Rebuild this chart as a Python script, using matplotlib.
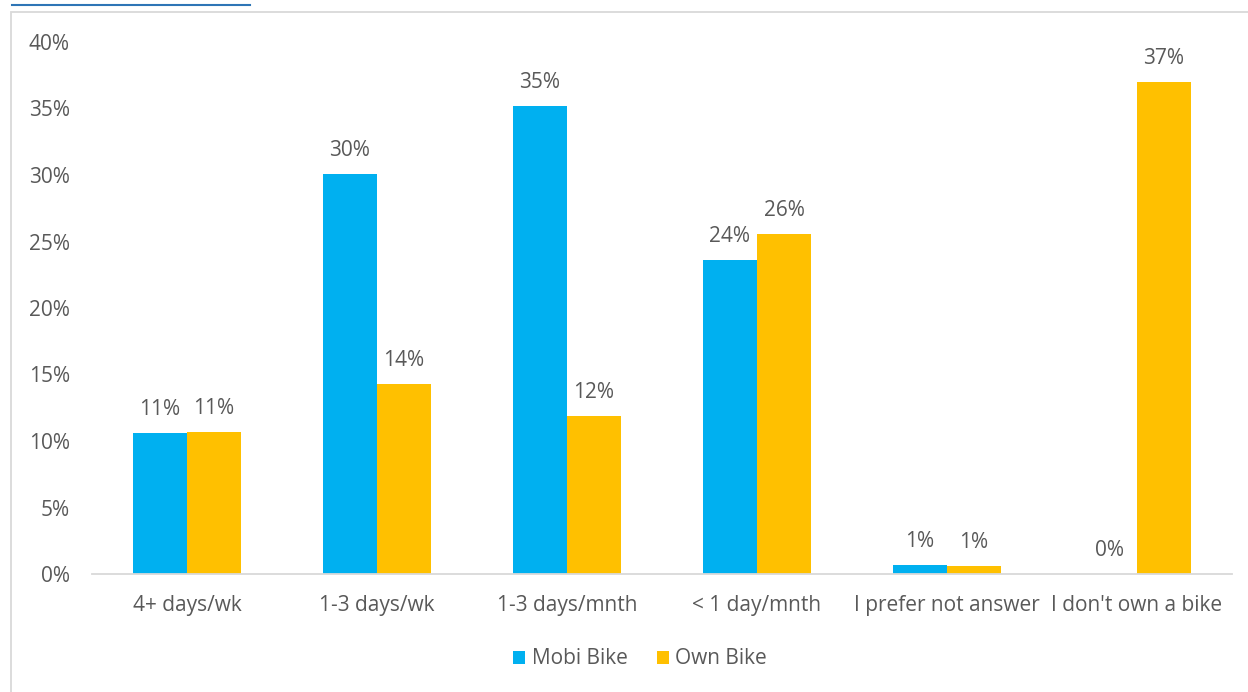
import matplotlib
matplotlib.use("Agg")
import matplotlib.pyplot as plt
from matplotlib.patches import Rectangle
from matplotlib.lines import Line2D
import numpy as np

categories = ["4+ days/wk", "1-3 days/wk", "1-3 days/mnth", "< 1 day/mnth",
              "I prefer not answer", "I don't own a bike"]
mobi = [10.6, 30.1, 35.2, 23.6, 0.7, 0.0]
own = [10.7, 14.3, 11.9, 25.6, 0.6, 37.0]
mobi_labels = ["11%", "30%", "35%", "24%", "1%", "0%"]
own_labels = ["11%", "14%", "12%", "26%", "1%", "37%"]
yticks = [0, 5, 10, 15, 20, 25, 30, 35, 40]

plt.rcParams['font.family'] = ['Open Sans', 'DejaVu Sans']
TXT = "#595959"
BLUE = "#00B0F0"
ORANGE = "#FFC000"
FS = 15

fig = plt.figure(figsize=(12.48, 6.92), dpi=100)
ax = fig.add_axes([92/1248, 1-574/692, (1232-92)/1248, (574-42)/692])

x = np.arange(len(categories))
w = 54/190
b1 = ax.bar(x - w/2, mobi, w, color=BLUE, label="Mobi Bike")
b2 = ax.bar(x + w/2, own, w, color=ORANGE, label="Own Bike")
for rect, lab in zip(b1, mobi_labels):
    ax.text(rect.get_x() + rect.get_width()/2, rect.get_height() + 0.97, lab,
            ha="center", va="bottom", fontsize=FS, color=TXT)
for rect, lab in zip(b2, own_labels):
    ax.text(rect.get_x() + rect.get_width()/2, rect.get_height() + 0.97, lab,
            ha="center", va="bottom", fontsize=FS, color=TXT)

ax.set_xlim(-0.5, len(categories) - 0.5)
ax.set_ylim(0, 40)
ax.set_yticks(yticks)
ax.set_yticklabels([f"{t}%" for t in yticks])
ax.set_xticks(x)
ax.set_xticklabels(categories)
ax.tick_params(axis="both", length=0, labelsize=FS, colors=TXT)
ax.tick_params(axis="y", pad=16)
ax.tick_params(axis="x", pad=15)
for s in ["top", "right", "left"]:
    ax.spines[s].set_visible(False)
ax.spines["bottom"].set_color("#D9D9D9")
ax.spines["bottom"].set_linewidth(1.3)

leg = fig.legend(handles=[b1, b2], labels=["Mobi Bike", "Own Bike"],
                 loc="center", bbox_to_anchor=(640/1248, 1-659/692), ncol=2,
                 frameon=False, fontsize=FS, handlelength=0.6, handleheight=0.6,
                 handletextpad=0.3, columnspacing=1.4)
for t in leg.get_texts():
    t.set_color(TXT)

# chart border
fig.patches.append(Rectangle((11/1248, -0.01), 1.1, 1 - 12/692 + 0.01,
                             transform=fig.transFigure, fill=False,
                             edgecolor="#D9D9D9", linewidth=1.3))
# partial hyperlink underline at top
fig.lines.append(Line2D([12/1248, 250/1248], [1-5/692, 1-5/692],
                        transform=fig.transFigure, color="#2E75B6", linewidth=1.5))

fig.savefig("out.png", dpi=100)
